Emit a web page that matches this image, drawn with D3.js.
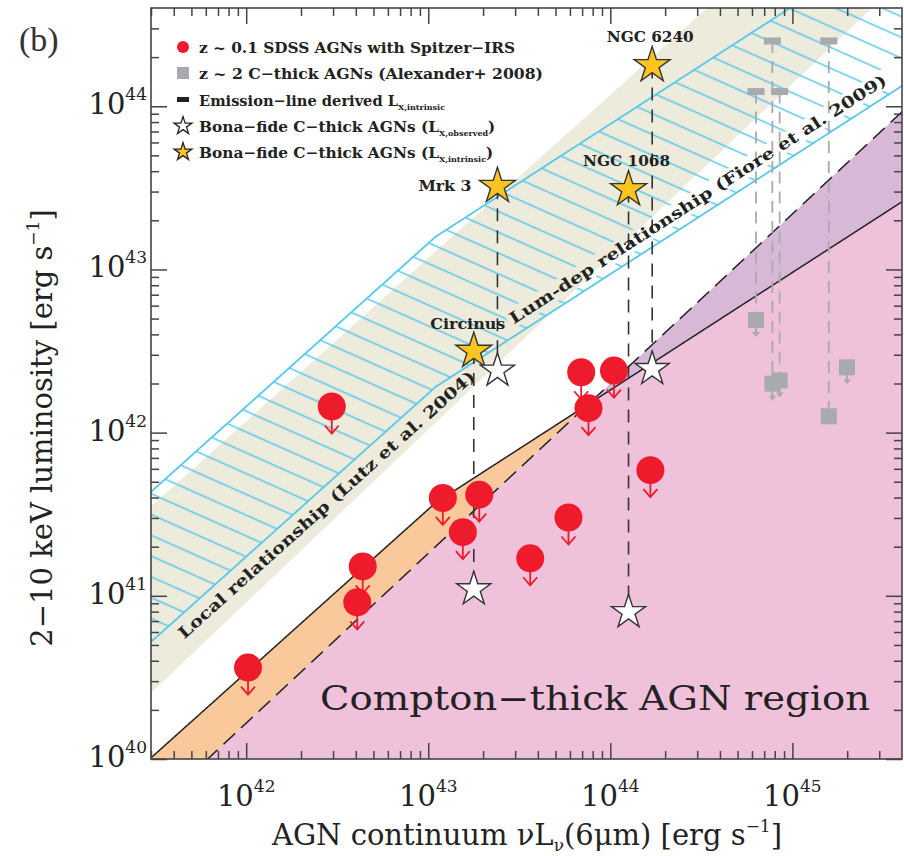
<!DOCTYPE html>
<html>
<head>
<meta charset="utf-8">
<script src="https://cdn.jsdelivr.net/npm/d3@7"></script>
<style>
  body { margin: 0; background: #fff; }
  svg { display: block; }
  .hershey { font-family: "DejaVu Serif", serif; font-weight: bold; fill: #222; }
  .roman { font-family: "DejaVu Serif", serif; fill: #222; }
</style>
</head>
<body>
<svg id="chart" width="904" height="856"></svg>
<script>
// ---------------- data (all luminosities as log10 [erg s^-1]) ----------------
// z ~ 0.1 SDSS AGNs with Spitzer-IRS (upper limits in L_X)
const sdssL6 = [42.01, 42.47, 42.64, 42.61, 43.08, 43.28, 43.19, 43.56, 43.77, 43.84, 44.02, 43.88, 44.22];
const sdssLX = [40.56, 42.16, 41.18, 40.96, 41.60, 41.62, 41.39, 41.23, 41.48, 42.37, 42.38, 42.15, 41.77];

// z ~ 2 Compton-thick AGNs (Alexander+ 2008): observed L_X, emission-line derived intrinsic L_X
const alexL6     = [44.80, 44.89, 44.93, 45.20, 45.30];
const alexLXobs  = [42.69, 42.30, 42.32, 42.10, 42.40];
const alexLXint  = [44.09, 44.40, 44.09, 44.40, null];
const alexUpper  = [true, true, true, false, true];

// Bona-fide Compton-thick AGNs
const ctNames  = ["Circinus", "Mrk 3", "NGC 1068", "NGC 6240"];
const ctL6     = [43.25, 43.38, 44.10, 44.23];
const ctLXobs  = [41.04, 42.38, 40.90, 42.39];
const ctLXint  = [42.50, 43.51, 43.49, 44.25];

// Relations: Lutz et al. (2004) local band, Fiore et al. (2009) luminosity-dependent band
const lutzUpper   = [1.00, 0.07];           // logLX = slope*logL6 + offset
const lutzLower   = [1.06, 41.477, 40.404]; // slope, pivot logL6, logLX at pivot
const fioreRel    = [43.04, -0.30, 0.72];   // break logL6, offset below break, slope above
const fioreEdges  = [0.46, -0.46];          // band half-widths (dex)
const ctSolidOff  = [-1.17];                // Compton-thick limit from the Fiore relation
const ctDashed    = [1.04, 44.0, 42.30];    // Compton-thick limit from the Lutz relation

// axes
const xMajor = [42, 43, 44, 45];
const yMajor = [40, 41, 42, 43, 44];

// ---------------- helpers ----------------
const fiore = l => l < fioreRel[0] ? l + fioreRel[1]
  : fioreRel[0] + fioreRel[1] + fioreRel[2] * (l - fioreRel[0]);
const lutzHi = l => lutzUpper[0] * l + lutzUpper[1];
const lutzLo = l => lutzLower[2] + lutzLower[0] * (l - lutzLower[1]);
const fioreHi = l => fiore(l) + fioreEdges[0];
const fioreLo = l => fiore(l) + fioreEdges[1];
const solid = l => fiore(l) + ctSolidOff[0];
const dashed = l => ctDashed[2] + ctDashed[0] * (l - ctDashed[1]);

const CYAN = "#58c8ea", BEIGE = "#edebdc", ORANGE = "#f9c89b", PINK = "#f0c1da",
      PURPLE = "#d8b8d7", RED = "#ee1b2d", GRAY = "#a8aaad", GOLD = "#fdc31f";

const x = d3.scaleLog().domain([3e41, 4e45]).range([151, 902]);
const y = d3.scaleLog().domain([1e40, 4e44]).range([759, 8]);
const X = l => x(Math.pow(10, l));
const Y = l => y(Math.pow(10, l));

const svg = d3.select("#chart");
const defs = svg.append("defs");
defs.append("clipPath").attr("id", "plotClip")
  .append("rect").attr("x", 151).attr("y", 8).attr("width", 751).attr("height", 751);

const hatch = defs.append("pattern").attr("id", "hatch")
  .attr("patternUnits", "userSpaceOnUse").attr("width", 40).attr("height", 19)
  .attr("patternTransform", "rotate(24)");
hatch.append("line").attr("x1", 0).attr("x2", 40).attr("y1", 9.5).attr("y2", 9.5)
  .attr("stroke", CYAN).attr("stroke-width", 1.5);

// placement of a label running along a relation (position from f, direction from g)
function along(l0, f, off, g = f) {
  const a = Math.atan2(Y(g(l0 + 0.5)) - Y(g(l0)), X(l0 + 0.5) - X(l0)) * 180 / Math.PI;
  return `translate(${X(l0)},${Y(f(l0)) + off}) rotate(${a})`;
}
const fioreLabel = { text: "Lum-dep relationship (Fiore et al. 2009)", l0: 43.47, off: -12, len: 445 };
const lutzLabel  = { text: "Local relationship (Lutz et al. 2004)", l0: 41.66, off: -22, len: 392 };

// the hatching is left open behind the Fiore label
const gap = defs.append("mask").attr("id", "labelGap").attr("maskUnits", "userSpaceOnUse")
  .attr("x", 0).attr("y", 0).attr("width", 904).attr("height", 856);
gap.append("rect").attr("width", 904).attr("height", 856).attr("fill", "#fff");
gap.append("rect").attr("transform", along(fioreLabel.l0, fioreLo, fioreLabel.off))
  .attr("x", -3).attr("y", -15).attr("width", fioreLabel.len + 40).attr("height", 19).attr("fill", "#000");

const grid = d3.range(41.2, 45.9, 0.005);
const plot = svg.append("g").attr("clip-path", "url(#plotClip)");

// Lutz et al. (2004) band
plot.append("path").datum(grid)
  .attr("d", d3.area().x(X).y0(d => Y(lutzLo(d))).y1(d => Y(lutzHi(d))))
  .attr("fill", BEIGE);

// Fiore et al. (2009) band: hatched, with cyan edges
plot.append("path").datum(grid)
  .attr("d", d3.area().x(X).y0(d => Y(fioreLo(d))).y1(d => Y(fioreHi(d))))
  .attr("fill", "url(#hatch)").attr("mask", "url(#labelGap)");
[fioreHi, fioreLo].forEach(f => {
  plot.append("path").datum(grid)
    .attr("d", d3.line().x(X).y(d => Y(f(d))))
    .attr("fill", "none").attr("stroke", CYAN).attr("stroke-width", 1.8);
});

// Compton-thick region and the two transition strips
plot.append("path").datum(grid)
  .attr("d", d3.area().x(X).y0(Y(39.5)).y1(d => Y(Math.min(solid(d), dashed(d)))))
  .attr("fill", PINK);
plot.append("path").datum(grid)
  .attr("d", d3.area().x(X).y0(d => Y(dashed(d))).y1(d => Y(Math.max(solid(d), dashed(d)))))
  .attr("fill", ORANGE);
plot.append("path").datum(grid)
  .attr("d", d3.area().x(X).y0(d => Y(solid(d))).y1(d => Y(Math.max(solid(d), dashed(d)))))
  .attr("fill", PURPLE);
plot.append("path").datum(grid)
  .attr("d", d3.line().x(X).y(d => Y(solid(d))))
  .attr("fill", "none").attr("stroke", "#222").attr("stroke-width", 1.5);
plot.append("path").datum(grid)
  .attr("d", d3.line().x(X).y(d => Y(dashed(d))))
  .attr("fill", "none").attr("stroke", "#222").attr("stroke-width", 1.5)
  .attr("stroke-dasharray", "16,8");

// band labels
svg.append("text").attr("class", "hershey")
  .attr("transform", along(lutzLabel.l0, lutzLo, lutzLabel.off, lutzHi))
  .attr("font-size", 16).attr("textLength", lutzLabel.len).attr("lengthAdjust", "spacingAndGlyphs")
  .text(lutzLabel.text);
svg.append("text").attr("class", "hershey")
  .attr("transform", along(fioreLabel.l0, fioreLo, fioreLabel.off))
  .attr("font-size", 16).attr("textLength", fioreLabel.len).attr("lengthAdjust", "spacingAndGlyphs")
  .text(fioreLabel.text);

// vertical links observed -> intrinsic for bona-fide CT AGNs
ctL6.forEach((l, i) => {
  plot.append("line").attr("x1", X(l)).attr("x2", X(l))
    .attr("y1", Y(ctLXint[i])).attr("y2", Y(ctLXobs[i]))
    .attr("stroke", "#333").attr("stroke-width", 1.6).attr("stroke-dasharray", "13,9");
});
// vertical links for the z~2 sources
alexL6.forEach((l, i) => {
  if (alexLXint[i] === null) return;
  plot.append("line").attr("x1", X(l)).attr("x2", X(l))
    .attr("y1", Y(alexLXint[i])).attr("y2", Y(alexLXobs[i]))
    .attr("stroke", GRAY).attr("stroke-width", 1.8).attr("stroke-dasharray", "12,8");
});

// SDSS upper limits
sdssL6.forEach((l, i) => {
  const cx = X(l), cy = Y(sdssLX[i]);
  const g = plot.append("g");
  g.append("line").attr("x1", cx).attr("x2", cx).attr("y1", cy).attr("y2", cy + 27)
    .attr("stroke", RED).attr("stroke-width", 1.8);
  g.append("path").attr("d", `M${cx - 7},${cy + 19}L${cx},${cy + 27}L${cx + 7},${cy + 19}`)
    .attr("fill", "none").attr("stroke", RED).attr("stroke-width", 1.8);
  g.append("circle").attr("cx", cx).attr("cy", cy).attr("r", 14).attr("fill", RED);
});

// z~2 C-thick AGNs
alexL6.forEach((l, i) => {
  const cx = X(l), cy = Y(alexLXobs[i]);
  if (alexUpper[i]) {
    plot.append("line").attr("x1", cx).attr("x2", cx).attr("y1", cy).attr("y2", cy + 14)
      .attr("stroke", GRAY).attr("stroke-width", 2);
    plot.append("path").attr("d", `M${cx - 4},${cy + 12}L${cx},${cy + 17}L${cx + 4},${cy + 12}Z`)
      .attr("fill", GRAY);
  }
  plot.append("rect").attr("x", cx - 8).attr("y", cy - 8).attr("width", 16).attr("height", 16)
    .attr("fill", GRAY);
  if (alexLXint[i] !== null) {
    plot.append("rect").attr("x", cx - 8.5).attr("y", Y(alexLXint[i]) - 3.5)
      .attr("width", 17).attr("height", 7).attr("fill", GRAY);
  }
});

// bona-fide CT AGN stars
const star = d3.symbol().type(d3.symbolStar);
ctL6.forEach((l, i) => {
  plot.append("path").attr("d", star.size(360)())
    .attr("transform", `translate(${X(l)},${Y(ctLXobs[i])})`)
    .attr("fill", "#fff").attr("stroke", "#333").attr("stroke-width", 1.4);
  plot.append("path").attr("d", star.size(400)())
    .attr("transform", `translate(${X(l)},${Y(ctLXint[i])})`)
    .attr("fill", GOLD).attr("stroke", "#333").attr("stroke-width", 1.4);
});
// source names
const nameOff = [[-6, -22, "middle", 75], [-26, 5, "end", 53], [-2, -23, "middle", 87], [-2, -23, "middle", 87]];
ctNames.forEach((n, i) => {
  svg.append("text").attr("class", "hershey")
    .attr("x", X(ctL6[i]) + nameOff[i][0]).attr("y", Y(ctLXint[i]) + nameOff[i][1])
    .attr("text-anchor", nameOff[i][2]).attr("font-size", 14)
    .attr("textLength", nameOff[i][3]).attr("lengthAdjust", "spacingAndGlyphs")
    .text(n);
});

// region label
svg.append("text").attr("class", "roman")
  .attr("x", 320).attr("y", 710).attr("font-size", 33).attr("fill", "#333")
  .attr("textLength", 550).attr("lengthAdjust", "spacingAndGlyphs")
  .text("Compton\u2212thick AGN region");

// ---------------- axes ----------------
const minor = (lo, hi) => {
  const out = [];
  for (let e = Math.floor(lo); e <= hi; e++)
    for (let m = 2; m <= 9; m++) {
      const v = Math.log10(m) + e;
      if (v > lo && v < hi) out.push(Math.pow(10, v));
    }
  return out;
};
const xMinor = minor(41.477, 45.602), yMinor = minor(40, 44.602);
const xMaj = xMajor.map(e => Math.pow(10, e)), yMaj = yMajor.map(e => Math.pow(10, e));

function ticks(axisFn, scale, vals, len, transform) {
  const g = svg.append("g").attr("transform", transform)
    .call(axisFn(scale).tickValues(vals).tickSizeInner(-len).tickSizeOuter(0).tickFormat(""));
  g.select(".domain").remove();
  g.selectAll(".tick line").attr("stroke", "#444").attr("stroke-width", 1.5);
}
ticks(d3.axisBottom, x, xMaj, 16, "translate(0,759)");
ticks(d3.axisBottom, x, xMinor, 8, "translate(0,759)");
ticks(d3.axisTop, x, xMaj, 16, "translate(0,8)");
ticks(d3.axisTop, x, xMinor, 8, "translate(0,8)");
ticks(d3.axisLeft, y, yMaj, 16, "translate(151,0)");
ticks(d3.axisLeft, y, yMinor, 8, "translate(151,0)");
ticks(d3.axisRight, y, yMaj, 16, "translate(902,0)");
ticks(d3.axisRight, y, yMinor, 8, "translate(902,0)");

svg.append("rect").attr("x", 151).attr("y", 8).attr("width", 751).attr("height", 751)
  .attr("fill", "none").attr("stroke", "#444").attr("stroke-width", 1.6);

// tick labels 10^n
xMajor.forEach(e => {
  const t = svg.append("text").attr("class", "roman").attr("font-size", 29)
    .attr("x", x(Math.pow(10, e))).attr("y", 806).attr("text-anchor", "middle");
  t.append("tspan").text("10");
  t.append("tspan").attr("font-size", 17).attr("dy", -14).text(e);
});
yMajor.forEach(e => {
  const t = svg.append("text").attr("class", "roman").attr("font-size", 29)
    .attr("x", 147).attr("y", y(Math.pow(10, e)) + 8).attr("text-anchor", "end");
  t.append("tspan").text("10");
  t.append("tspan").attr("font-size", 17).attr("dy", -14).text(e);
});

// axis titles
const xt = svg.append("text").attr("class", "roman").attr("font-size", 29)
  .attr("x", 527).attr("y", 845).attr("text-anchor", "middle");
xt.append("tspan").text("AGN continuum \u03bdL");
xt.append("tspan").attr("font-size", 17).attr("dy", 6).text("\u03bd");
xt.append("tspan").attr("dy", -6).text("(6\u03bcm) [erg s");
xt.append("tspan").attr("font-size", 17).attr("dy", -13).text("\u22121");
xt.append("tspan").attr("dy", 13).text("]");

const yt = svg.append("text").attr("class", "roman").attr("font-size", 29)
  .attr("transform", "translate(52,428) rotate(-90)").attr("text-anchor", "middle");
yt.append("tspan").text("2\u221210 keV luminosity [erg s");
yt.append("tspan").attr("font-size", 17).attr("dy", -13).text("\u22121");
yt.append("tspan").attr("dy", 13).text("]");

svg.append("text").attr("font-family", "Liberation Serif, serif").attr("font-size", 34)
  .attr("fill", "#333").attr("x", 19).attr("y", 51).text("(b)");

// ---------------- legend ----------------
const leg = svg.append("g");
const rows = [
  { y: 47, main: "z ~ 0.1 SDSS AGNs with Spitzer\u2212IRS", sub: null, len: 316 },
  { y: 73, main: "z ~ 2 C\u2212thick AGNs (Alexander+ 2008)", sub: null, len: 344 },
  { y: 100, main: "Emission\u2212line derived L", sub: "X,intrinsic", len: 199, tail: "" },
  { y: 126, main: "Bona\u2212fide C\u2212thick AGNs (L", sub: "X,observed", len: 240, tail: ")" },
  { y: 152, main: "Bona\u2212fide C\u2212thick AGNs (L", sub: "X,intrinsic", len: 240, tail: ")" }
];
rows.forEach(r => {
  const t = leg.append("text").attr("class", "hershey").attr("font-size", 15)
    .attr("x", 199).attr("y", r.y + 6);
  t.append("tspan").attr("textLength", r.len).attr("lengthAdjust", "spacingAndGlyphs").text(r.main);
  if (r.sub) {
    t.append("tspan").attr("font-size", 8).attr("dy", 4).text(r.sub);
    if (r.tail) t.append("tspan").attr("dy", -4).text(r.tail);
  }
});
leg.append("circle").attr("cx", 183).attr("cy", 47).attr("r", 6).attr("fill", RED);
leg.append("rect").attr("x", 177).attr("y", 67).attr("width", 12).attr("height", 12).attr("fill", GRAY);
leg.append("rect").attr("x", 177).attr("y", 97).attr("width", 12).attr("height", 5).attr("fill", "#222");
leg.append("path").attr("d", star.size(100)()).attr("transform", "translate(183,126)")
  .attr("fill", "#fff").attr("stroke", "#222").attr("stroke-width", 1.3);
leg.append("path").attr("d", star.size(100)()).attr("transform", "translate(183,152)")
  .attr("fill", GOLD).attr("stroke", "#222").attr("stroke-width", 1.3);
</script>
</body>
</html>
